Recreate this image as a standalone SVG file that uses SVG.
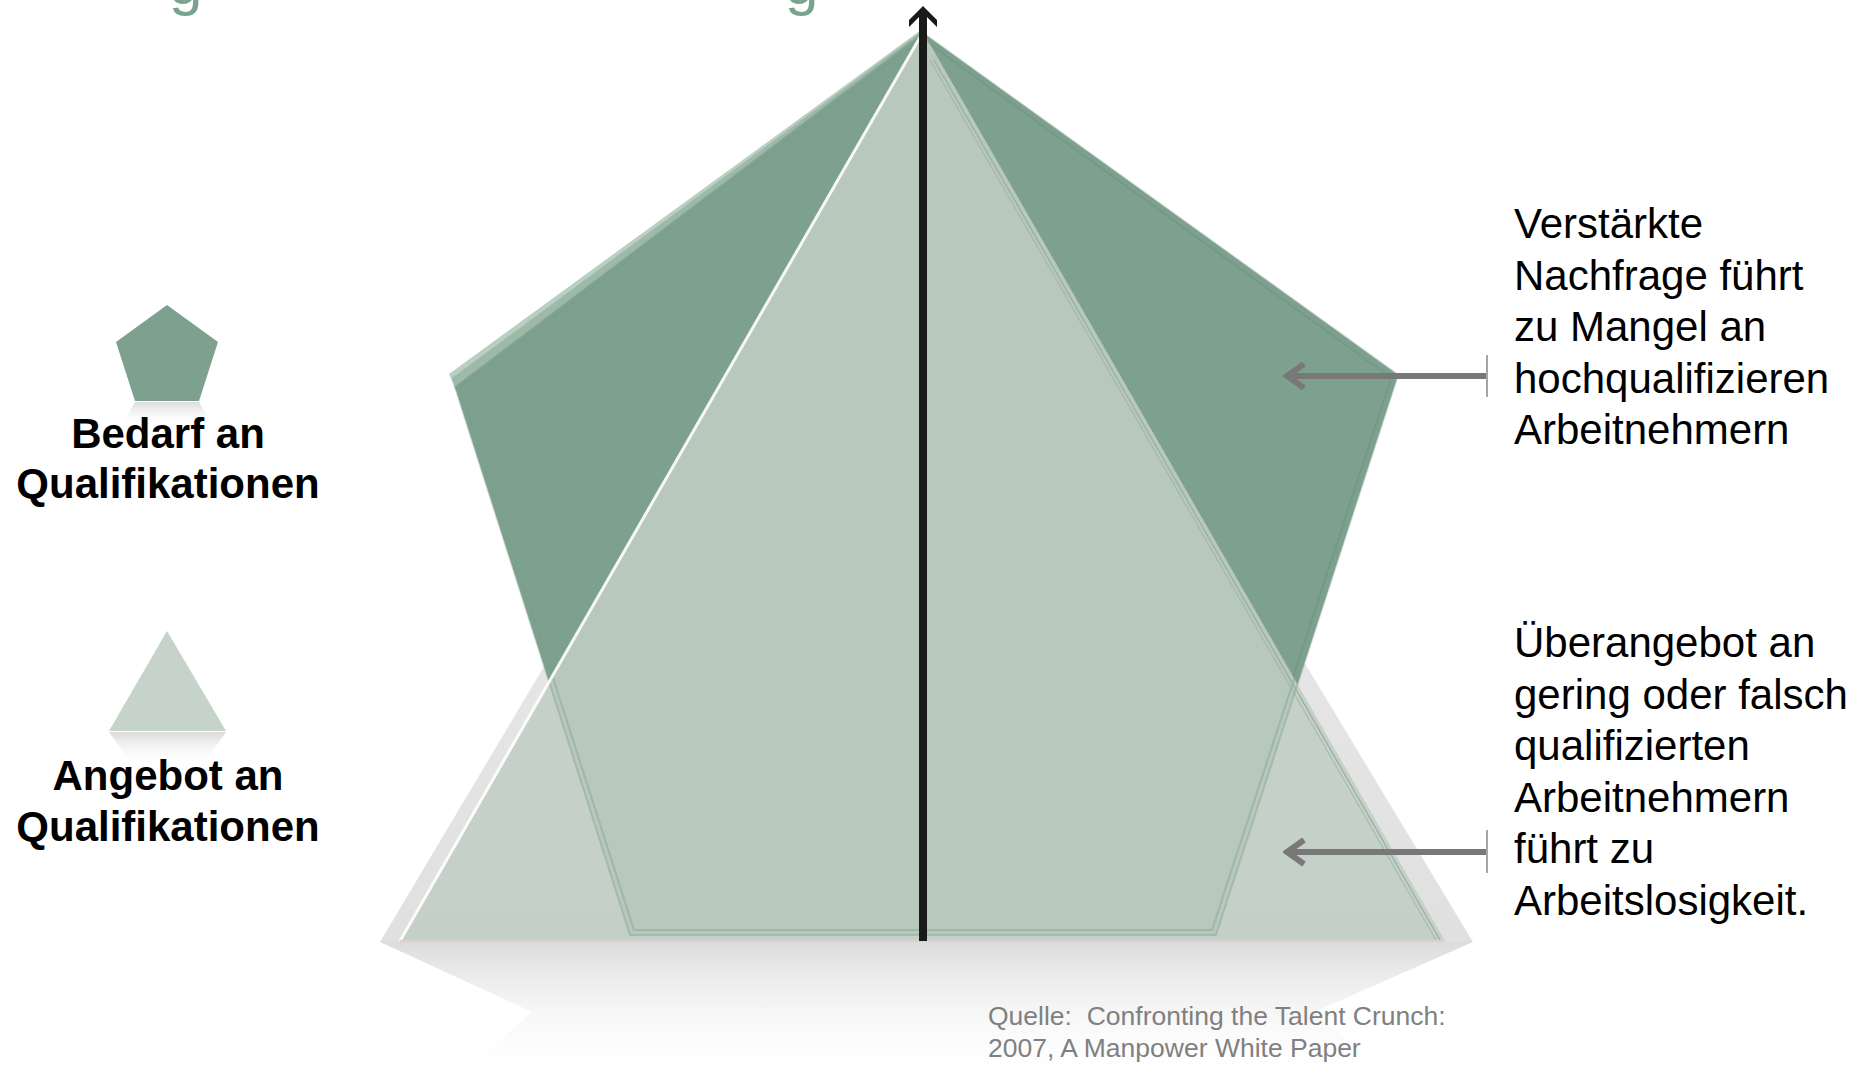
<svg xmlns="http://www.w3.org/2000/svg" width="1868" height="1085" viewBox="0 0 1868 1085">
<defs>
  <style>
    .ttl{font-family:"Liberation Sans",Arial,sans-serif;font-size:60px;fill:#7aa38f}
    .lbl{font-family:"Liberation Sans",Arial,sans-serif;font-weight:bold;font-size:42px;fill:#000;text-anchor:middle}
    .note{font-family:"Liberation Sans",Arial,sans-serif;font-size:42px;fill:#000}
    .src{font-family:"Liberation Sans",Arial,sans-serif;font-size:26.5px;fill:#808080}
    .dark{fill:#7ea18f}
    .light{fill:#c0cec4}
    .ann{stroke:#787878;stroke-width:6;fill:none}
    .tick{stroke:#a6a6a6;stroke-width:2}
    .edge{fill:none;stroke:#7a9e8a;stroke-width:2;stroke-opacity:0.4}
  </style>
  <linearGradient id="refl" x1="0" y1="942" x2="0" y2="1085" gradientUnits="userSpaceOnUse">
    <stop offset="0" stop-color="#dadada" stop-opacity="0.95"/>
    <stop offset="0.45" stop-color="#eeeeee" stop-opacity="0.6"/>
    <stop offset="1" stop-color="#ffffff" stop-opacity="0"/>
  </linearGradient>
  <linearGradient id="shadow" x1="0" y1="32" x2="0" y2="942" gradientUnits="userSpaceOnUse">
    <stop offset="0" stop-color="#f2f2f2"/>
    <stop offset="1" stop-color="#e0e0e0"/>
  </linearGradient>
  <linearGradient id="lrefl" x1="0" y1="0" x2="0" y2="1">
    <stop offset="0" stop-color="#d6d6d6" stop-opacity="0.9"/>
    <stop offset="1" stop-color="#ffffff" stop-opacity="0"/>
  </linearGradient>
  <marker id="chev" viewBox="0 0 30 30" markerWidth="30" markerHeight="30" refX="26" refY="15" orient="auto" markerUnits="userSpaceOnUse">
    <path d="M9,3 L26,15 L9,27" fill="none" stroke="#787878" stroke-width="6"/>
  </marker>
  <marker id="axishead" viewBox="0 0 24 30" markerWidth="24" markerHeight="30" refX="11" refY="15" orient="auto" markerUnits="userSpaceOnUse">
    <path d="M22,15 L8,29 L1,29 L11,19 L11,11 L1,1 L8,1 Z" fill="#1a1a1a"/>
  </marker>
</defs>

<g id="title-fragment">
  <text class="ttl" x="169" y="4">g</text>
  <text class="ttl" x="785" y="4">g</text>
</g>

<g id="legend-demand">
  <polygon points="135,402 199,402 213,426 121,426" fill="url(#lrefl)"/>
  <polygon class="dark" points="167,305 218,342 199,401 135,401 116,342"/>
  <text class="lbl" x="168" y="448">Bedarf an</text>
  <text class="lbl" x="168" y="498">Qualifikationen</text>
</g>

<g id="legend-supply">
  <polygon points="109,732 226,732 202,766 133,766" fill="url(#lrefl)"/>
  <polygon points="167,631 226,731 109,731" fill="#c6d3cb"/>
  <text class="lbl" x="168" y="790">Angebot an</text>
  <text class="lbl" x="168" y="841">Qualifikationen</text>
</g>

<g id="pyramid">
  <polygon id="reflection" points="380,942 1473,942 1314,1012 1400,1085 450,1085 532,1012" fill="url(#refl)"/>
  <polygon id="shadow-tri" points="923,30 1473,942 380,942" fill="url(#shadow)"/>
  <g id="demand-pentagon">
    <polygon points="921,30 449,374 455,388 923,33" fill="#b8cfc1"/>
    <polygon points="922,31 452,378 455,388 923,33" fill="#9dbaa9"/>
    <polygon class="dark" points="923,33 1398,375 1216,935 630,935 455,387"/>
    <polyline points="924,40 1391,378 1210,930" fill="none" stroke="#6c917d" stroke-width="1.5" stroke-opacity="0.6"/>
  </g>
  <g id="supply-triangle">
    <polygon class="light" points="923,32 1445,941 400,941" fill-opacity="0.875"/>
    <polygon class="edge" points="923,33 1398,375 1216,935 630,935 455,387"/>
    <polygon class="edge" points="923,38 1393,377 1212,930 634,930 460,388" stroke-opacity="0.28"/>
    <line x1="923" y1="32" x2="400" y2="941" stroke="#ffffff" stroke-width="3" stroke-opacity="0.9"/>
    <line x1="934" y1="60" x2="1440" y2="940" stroke="#98b1a2" stroke-width="1.3"/>
    <line x1="930" y1="60" x2="1436" y2="940" stroke="#98b1a2" stroke-width="1.1" stroke-opacity="0.7"/>
    <line x1="400" y1="941" x2="1445" y2="941" stroke="#d7d1d1" stroke-width="2.5"/>
  </g>
</g>

<g id="connectors">
  <line id="axis" x1="923" y1="941" x2="923" y2="17" stroke="#1a1a1a" stroke-width="8" marker-end="url(#axishead)"/>
  <line class="ann" x1="1487" y1="376" x2="1287" y2="376" marker-end="url(#chev)"/>
  <line class="tick" x1="1487" y1="355" x2="1487" y2="397"/>
  <line class="ann" x1="1487" y1="852" x2="1287" y2="852" marker-end="url(#chev)"/>
  <line class="tick" x1="1487" y1="830" x2="1487" y2="873"/>
</g>

<g id="note-demand">
  <text class="note" x="1514" y="238">Verstärkte</text>
  <text class="note" x="1514" y="289.5">Nachfrage führt</text>
  <text class="note" x="1514" y="341">zu Mangel an</text>
  <text class="note" x="1514" y="392.5">hochqualifizieren</text>
  <text class="note" x="1514" y="444">Arbeitnehmern</text>
</g>

<g id="note-supply">
  <text class="note" x="1514" y="657">Überangebot an</text>
  <text class="note" x="1514" y="708.5">gering oder falsch</text>
  <text class="note" x="1514" y="760">qualifizierten</text>
  <text class="note" x="1514" y="811.5">Arbeitnehmern</text>
  <text class="note" x="1514" y="863">führt zu</text>
  <text class="note" x="1514" y="914.5">Arbeitslosigkeit.</text>
</g>

<g id="source">
  <text class="src" x="988" y="1025" xml:space="preserve">Quelle:  Confronting the Talent Crunch:</text>
  <text class="src" x="988" y="1057">2007, A Manpower White Paper</text>
</g>
</svg>
